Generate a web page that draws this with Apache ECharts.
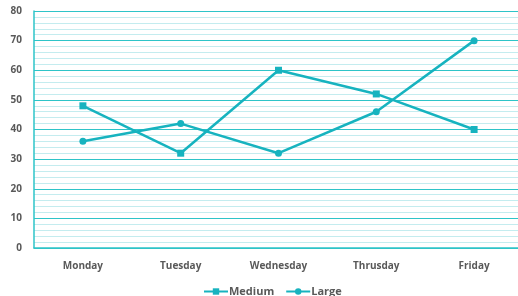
<!DOCTYPE html>
<html><head><meta charset="utf-8">
<script src="https://cdn.jsdelivr.net/npm/echarts@6/dist/echarts.min.js"></script>
<style>html,body{margin:0;padding:0;background:#fff}#c{width:518px;height:296px}</style>
</head><body><div id="c"></div>
<script>
const categories = ["Monday","Tuesday","Wednesday","Thrusday","Friday"];
const mediumValues = [48,32,60,52,40];
const largeValues = [36,42,32,46,70];
const yTicks = {min:0,max:80,interval:10};

const chart = echarts.init(document.getElementById('c'));
const lineColor = '#17b3bf';
const labelFont = {color:'#595959',fontWeight:'bold',fontSize:10,fontFamily:'Open Sans'};
chart.setOption({
  animation:false,
  grid:{left:34,right:-5,top:11,bottom:48,outerBoundsMode:'none'},
  legend:{top:281,left:198,itemWidth:24,itemHeight:8,itemGap:11,
    textStyle:Object.assign({},labelFont,{fontSize:11,padding:[0,0,0,-4]}),
    data:['Medium','Large']},
  xAxis:{type:'category',data:categories,boundaryGap:true,
    axisLine:{show:true,lineStyle:{color:'#2ec4c8',width:1.5}},
    axisTick:{show:false},
    axisLabel:Object.assign({margin:13},labelFont)},
  yAxis:{type:'value',min:yTicks.min,max:yTicks.max,interval:yTicks.interval,
    axisLine:{show:true,lineStyle:{color:'#2ec4c8',width:1.5}},
    axisTick:{show:false},
    axisLabel:Object.assign({margin:12},labelFont),
    splitLine:{show:true,lineStyle:{color:'#2ec4c8',width:1.2}},
    minorTick:{show:false,splitNumber:5},
    minorSplitLine:{show:true,lineStyle:{color:'#c4ecef',width:1}}},
  series:[
    {name:'Medium',type:'line',data:mediumValues,symbol:'rect',symbolSize:7,
      lineStyle:{color:lineColor,width:2.5},itemStyle:{color:lineColor}},
    {name:'Large',type:'line',data:largeValues,symbol:'circle',symbolSize:7,
      lineStyle:{color:lineColor,width:2.5},itemStyle:{color:lineColor}}
  ]
});
</script></body></html>
